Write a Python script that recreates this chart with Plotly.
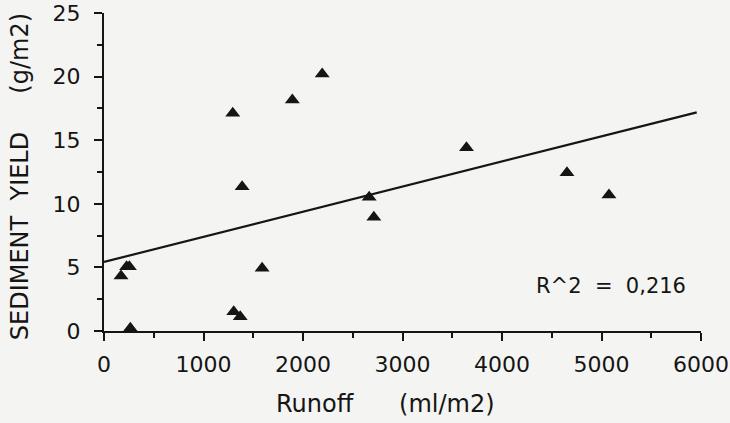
import plotly.graph_objects as go

# Data
runoff = [171, 227, 255, 265, 1304, 1369, 1589, 1388, 1294, 1893, 2193, 2665, 2712, 3643, 4653, 5075]
sediment = [4.32, 5.05, 5.05, 0.21, 1.52, 1.12, 4.93, 11.34, 17.11, 18.16, 20.2, 10.51, 8.94, 14.41, 12.44, 10.69]

# Regression line as drawn in the picture
fit_intercept = 5.43
fit_slope = 0.001974
fit_x = [0, 5957]
fit_y = [fit_intercept + fit_slope * v for v in fit_x]

x_ticks = [0, 1000, 2000, 3000, 4000, 5000, 6000]
y_ticks = [0, 5, 10, 15, 20, 25]

x_title = "Runoff      (ml/m2)"
y_title = "SEDIMENT  YIELD     (g/m2)"
r2_label = "R^2  =  0,216"

FONT = "DejaVu Sans"
INK = "#151515"
PAPER = "#f4f4f2"

fig = go.Figure()
fig.add_trace(go.Scatter(x=fit_x, y=fit_y, mode="lines",
                         line=dict(color=INK, width=2.2), showlegend=False,
                         cliponaxis=False, hoverinfo="skip"))
fig.add_trace(go.Scatter(x=runoff, y=sediment, mode="markers",
                         marker=dict(symbol="triangle-up", size=13, color=INK,
                                     line=dict(width=0)),
                         showlegend=False, cliponaxis=False))

fig.add_annotation(x=5095, y=3.54, xref="x", yref="y",
                   text=r2_label, showarrow=False,
                   font=dict(family=FONT, size=21, color=INK),
                   xanchor="center", yanchor="middle")

# Axis titles (placed as in the reference, which is not centred on the plot area)
fig.add_annotation(x=-0.1394, y=0.486, xref="paper", yref="paper",
                   text=y_title, textangle=-90, showarrow=False,
                   font=dict(family=FONT, size=24, color=INK),
                   xanchor="center", yanchor="middle")
fig.add_annotation(x=0.4707, y=-0.2296, xref="paper", yref="paper",
                   text=x_title, showarrow=False,
                   font=dict(family=FONT, size=24, color=INK),
                   xanchor="center", yanchor="middle")

fig.update_layout(
    width=730, height=423,
    margin=dict(l=104, r=29, t=13, b=92, autoexpand=False),
    paper_bgcolor=PAPER, plot_bgcolor=PAPER,
    font=dict(family=FONT, size=21, color=INK),
    showlegend=False,
)
fig.update_xaxes(
    automargin=False,
    range=[0, 6000], tickvals=x_ticks, ticktext=[str(v) for v in x_ticks],
    showgrid=False, zeroline=False, showline=True, linecolor=INK, linewidth=2,
    ticks="outside", ticklen=8, tickwidth=2, tickcolor=INK,
    minor=dict(dtick=500, ticks="outside", ticklen=5, tickwidth=2, tickcolor=INK, showgrid=False),
    tickfont=dict(family=FONT, size=22, color=INK),
    ticklabelstandoff=5,
)
fig.update_yaxes(
    automargin=False,
    range=[0, 25], tickvals=y_ticks, ticktext=[str(v) for v in y_ticks],
    showgrid=False, zeroline=False, showline=True, linecolor=INK, linewidth=2,
    ticks="outside", ticklen=8, tickwidth=2, tickcolor=INK,
    minor=dict(dtick=2.5, ticks="outside", ticklen=5, tickwidth=2, tickcolor=INK, showgrid=False),
    tickfont=dict(family=FONT, size=22, color=INK),
    ticklabelstandoff=9,
)

fig.write_html("out.html", config={"displayModeBar": False},
               post_script="document.body.style.margin='0';document.body.style.overflow='hidden';")
